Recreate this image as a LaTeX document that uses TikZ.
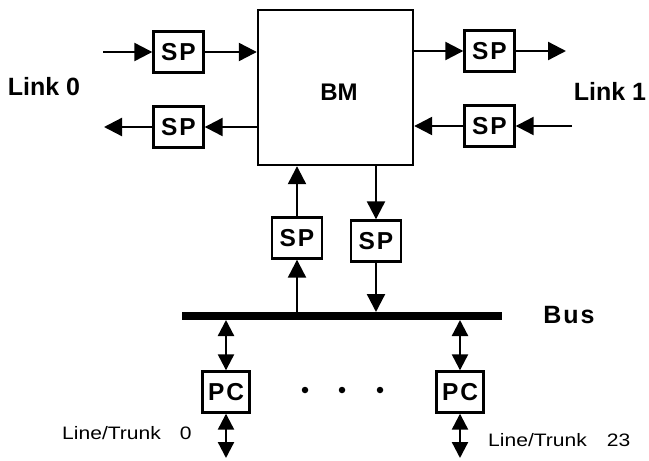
\documentclass[tikz,border=0pt]{standalone}
\usepackage{fontspec}
\setmainfont{Liberation Sans}
\newfontfamily\spacedfont[LetterSpace=8]{Liberation Sans}
\newfontfamily\widefont[FakeStretch=1.17]{Liberation Sans}
\usetikzlibrary{arrows.meta}
\tikzset{
  unitbox/.style={draw, line width=2.4pt, minimum width=50pt, minimum height=41pt, inner sep=0pt,
    font=\spacedfont\bfseries\fontsize{24.5}{26}\selectfont},
  pcbox/.style={unitbox, minimum width=47pt},
  conn/.style={line width=2.3pt, -{Triangle[length=18pt,width=18pt]}},
  biconn/.style={line width=2.3pt, {Triangle[length=16pt,width=16pt]}-{Triangle[length=16pt,width=16pt]}},
  boldlabel/.style={font=\bfseries\fontsize{24}{26}\selectfont, inner sep=0pt},
  plainlabel/.style={font=\widefont\fontsize{18}{20}\selectfont, inner sep=0pt, anchor=west},
  dot/.style={circle, fill, inner sep=0pt, minimum size=6.5pt}
}
\begin{document}
\begin{tikzpicture}[x=1pt,y=-1pt]
\useasboundingbox (0,0) rectangle (649,461);
% BM
\node[draw, line width=2.4pt, minimum width=155pt, minimum height=155pt, inner sep=0pt] (bm) at (335.5,87.5) {};
\node[boldlabel, font=\bfseries\fontsize{24}{26}\selectfont] (bmlabel) at (339,92) {BM};
% SP units
\node[unitbox] (sptl) at (178.5,52) {SP};
\node[unitbox] (spbl) at (178.5,127) {SP};
\node[unitbox] (sptr) at (489.5,51) {SP};
\node[unitbox] (spbr) at (489.5,126) {SP};
\node[unitbox] (spup) at (297,238) {SP};
\node[unitbox] (spdn) at (376,241) {SP};
% link ends
\coordinate (intl) at (103,52);
\coordinate (outbl) at (104,127);
\coordinate (outtr) at (566,51);
\coordinate (inbr) at (572,126);
% labels
\node[boldlabel, font=\bfseries\fontsize{25}{27}\selectfont] (link0) at (44,87) {Link 0};
\node[boldlabel, font=\bfseries\fontsize{25}{27}\selectfont] (link1) at (610,91) {Link 1};
% bus
\coordinate (busl) at (182,316);
\coordinate (busr) at (502,316);
\draw[line width=8.5pt] (busl) -- (busr);
\node[boldlabel, font=\spacedfont\bfseries\fontsize{25}{27}\selectfont] (buslabel) at (569,315) {Bus};
% PCs
\node[pcbox] (pc0) at (226,392) {PC};
\node[pcbox] (pc23) at (460,392) {PC};
\node[dot] (d1) at (305,390) {};
\node[dot] (d2) at (342,390) {};
\node[dot] (d3) at (380,390) {};
\coordinate (lt0) at (226,458);
\coordinate (lt23) at (460,458);
\node[plainlabel] (lt0label) at (62,433) {Line/Trunk\hspace{19pt}0};
\node[plainlabel] (lt23label) at (488,440) {Line/Trunk\hspace{20pt}23};
% connectors link 0
\draw[conn] (intl) -- (sptl.west);
\draw[conn] (sptl.east) -- (sptl.east -| bm.west);
\draw[conn] (spbl.east -| bm.west) -- (spbl.east);
\draw[conn] (spbl.west) -- (outbl);
% connectors link 1
\draw[conn] (sptr.west -| bm.east) -- (sptr.west);
\draw[conn] (sptr.east) -- (outtr);
\draw[conn] (inbr) -- (spbr.east);
\draw[conn] (spbr.west) -- (spbr.west -| bm.east);
% bus side
\draw[conn] (spup.north) -- (spup.north |- bm.south);
\draw[conn] (spup.south |- 0,312) -- (spup.south);
\draw[conn] (spdn.north |- bm.south) -- (spdn.north);
\draw[conn] (spdn.south) -- (spdn.south |- 0,312);
% PCs
\draw[biconn] (pc0.north |- 0,320) -- (pc0.north);
\draw[biconn] (pc0.south) -- (lt0);
\draw[biconn] (pc23.north |- 0,320) -- (pc23.north);
\draw[biconn] (pc23.south) -- (lt23);
\end{tikzpicture}
\end{document}
